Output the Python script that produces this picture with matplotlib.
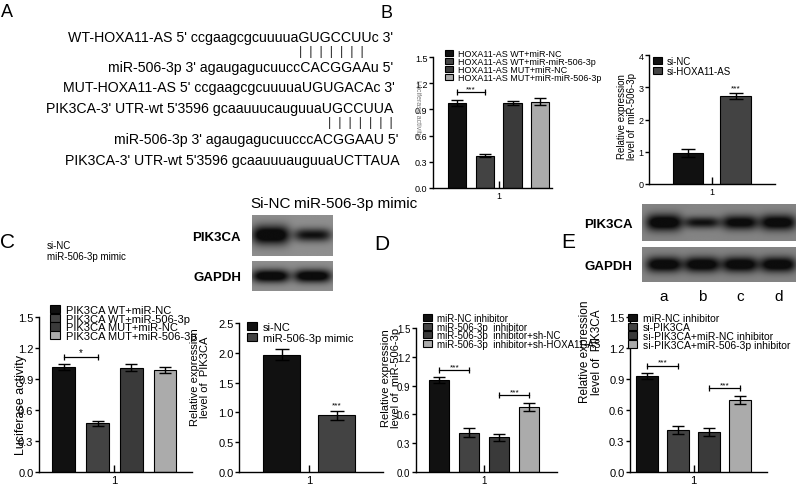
import matplotlib
matplotlib.use('Agg')
import matplotlib.pyplot as plt
import numpy as np

plt.rcParams['font.family'] = ['Liberation Sans', 'DejaVu Sans']

W, H = 796, 485

# ---------------- data ----------------
seq_lines = ["WT-HOXA11-AS 5' ccgaagcgcuuuuaGUGCCUUc 3'",
             "miR-506-3p 3' agaugagucuuccCACGGAAu 5'",
             "MUT-HOXA11-AS 5' ccgaagcgcuuuuaUGUGACAc 3'",
             "PIK3CA-3' UTR-wt 5'3596 gcaauuucauguuaUGCCUUA",
             "miR-506-3p 3' agaugagucuucccACGGAAU 5'",
             "PIK3CA-3' UTR-wt 5'3596 gcaauuuauguuaUCTTAUA"]
pairing = "|  |  |  |  |  |  |"

b1_labels = ['HOXA11-AS WT+miR-NC', 'HOXA11-AS WT+miR-miR-506-3p',
             'HOXA11-AS MUT+miR-NC', 'HOXA11-AS MUT+miR-miR-506-3p']
b1_vals = [0.97, 0.37, 0.97, 0.99]
b1_errs = [0.035, 0.02, 0.025, 0.035]

b2_labels = ['si-NC', 'si-HOXA11-AS']
b2_vals = [0.96, 2.74]
b2_errs = [0.12, 0.09]

c1_labels = ['PIK3CA WT+miR-NC', 'PIK3CA WT+miR-506-3p',
             'PIK3CA MUT+miR-NC', 'PIK3CA MUT+miR-506-3p']
c1_vals = [1.02, 0.47, 1.01, 0.985]
c1_errs = [0.03, 0.02, 0.035, 0.03]

c2_labels = ['si-NC', 'miR-506-3p mimic']
c2_vals = [1.97, 0.95]
c2_errs = [0.09, 0.08]

d_labels = ['miR-NC inhibitor', 'miR-506-3p  inhibitor',
            'miR-506-3p  inhibitor+sh-NC', 'miR-506-3p  inhibitor+sh-HOXA11-AS']
d_vals = [0.96, 0.41, 0.36, 0.68]
d_errs = [0.03, 0.045, 0.035, 0.04]

e_labels = ['miR-NC inhibitor', 'si-PIK3CA',
            'si-PIK3CA+miR-NC inhibitor', 'si-PIK3CA+miR-506-3p inhibitor']
e_vals = [0.93, 0.41, 0.39, 0.70]
e_errs = [0.03, 0.04, 0.04, 0.04]

# western blots: relative band strength per lane
blot_c_lanes = ['Si-NC', 'miR-506-3p mimic']
blot_c_pik3ca = [1.0, 0.55]
blot_c_gapdh = [0.95, 0.95]
blot_e_lanes = ['a', 'b', 'c', 'd']
blot_e_pik3ca = [1.0, 0.55, 0.8, 0.9]
blot_e_gapdh = [0.95, 0.95, 0.95, 0.95]

bar_colors = ['#111111', '#434343', '#3a3a3a', '#ababab']

fig = plt.figure(figsize=(W / 100, H / 100), dpi=100)


def px_axes(x0, y0, x1, y1):
    return fig.add_axes([x0 / W, 1 - y1 / H, (x1 - x0) / W, (y1 - y0) / H])


def fig_xy(x, y):
    return x / W, 1 - y / H


def bar_panel(rect, vals, errs, labels, ylim, yticks, fmt, xlim, width, fs, cap,
              mid, leg_xy, leg_fs, leg_sp):
    ax = px_axes(*rect)
    ax.patch.set_alpha(0)
    for i in range(len(vals)):
        ax.bar(i, vals[i], width, yerr=errs[i], color=bar_colors[i], edgecolor='black',
               linewidth=0.8, capsize=cap, label=labels[i],
               error_kw=dict(elinewidth=1.0, capthick=1.0, ecolor='black'))
    ax.set_xlim(*xlim)
    ax.set_ylim(*ylim)
    ax.set_yticks(yticks)
    ax.set_yticklabels([fmt.format(t) for t in yticks], fontsize=fs)
    ax.set_xticks([mid])
    ax.set_xticklabels(['1'], fontsize=fs)
    for s in ['top', 'right']:
        ax.spines[s].set_visible(False)
    for s in ['left', 'bottom']:
        ax.spines[s].set_linewidth(1.0)
    ax.tick_params(axis='y', direction='out', length=3, width=1.0, pad=1)
    ax.tick_params(axis='x', direction='in', length=5, width=1.0, pad=2)
    ax.legend(loc='upper left', bbox_to_anchor=fig_xy(*leg_xy), bbox_transform=fig.transFigure,
              frameon=False, fontsize=leg_fs, handlelength=0.9, handleheight=0.75,
              handletextpad=0.5, labelspacing=leg_sp, borderpad=0, borderaxespad=0)
    return ax


def bracket(ax, i, j, y, txt, fs=6, ms=5):
    ax.plot([i, j], [y, y], color='black', lw=0.9, marker='|', markersize=ms, mew=0.9)
    ax.text((i + j) / 2, y, txt, ha='center', va='bottom', fontsize=fs)


def blot(ax, levels, xlim, bg, lane_w):
    xs = np.linspace(xlim[0], xlim[1], 400)
    ys = np.linspace(0, 1, 120)
    X, Y = np.meshgrid(xs, ys)
    dark = np.zeros_like(X)
    for i, a in enumerate(levels):
        t = 0.14 + 0.32 * a
        dark += np.exp(-np.abs((X - i) / (lane_w / 2)) ** 4 - ((Y - 0.5) / (t / 2)) ** 2) * (0.6 + 0.7 * a)
    img = bg - (bg - 0.05) * np.clip(dark, 0, 1)
    ax.imshow(img, extent=(xlim[0], xlim[1], 0, 1), cmap='gray', vmin=0, vmax=1,
              aspect='auto', origin='lower', interpolation='bilinear')
    ax.set_xlim(*xlim)
    ax.set_ylim(0, 1)
    for s in ax.spines.values():
        s.set_visible(False)


# ---------------- panel A ----------------
seq_pos = [(393, 42), (393, 72), (395, 92), (393, 113), (398, 144), (400, 165)]
for line, (x, y) in zip(seq_lines, seq_pos):
    fig.text(*fig_xy(x, y), line, ha='right', va='baseline', fontsize=10.2)
fig.text(*fig_xy(331, 52), pairing, ha='center', va='center', fontsize=9, color='#222222')
fig.text(*fig_xy(360, 123), pairing, ha='center', va='center', fontsize=9, color='#222222')

# ---------------- panel B ----------------
axb1 = bar_panel((433, 58, 552, 189), b1_vals, b1_errs, b1_labels, (0, 1.5),
                 [0, 0.3, 0.6, 0.9, 1.2, 1.5], '{:.1f}', (-0.86, 3.42), 0.65, 6.5, 4,
                 1.5, (445, 50), 6.5, -0.1)
bracket(axb1, 0, 1, 1.10, '***')
fig.text(*fig_xy(418, 108), 'Luciferase activity', rotation=270, ha='center', va='center',
         fontsize=5, color='#777777')

axb2 = bar_panel((649, 56, 775, 185), b2_vals, b2_errs, b2_labels, (0, 4),
                 [0, 1, 2, 3, 4], '{:d}', (-0.82, 1.83), 0.64, 6.5, 5,
                 0.5, (653, 57), 7, -0.04)
axb2.text(1, b2_vals[1] + b2_errs[1] + 0.05, '***', ha='center', va='bottom', fontsize=6)
fig.text(*fig_xy(627, 117), 'Relative expression\nlevel of  miR-506-3p', rotation=90,
         ha='center', va='center', fontsize=7, linespacing=0.95)

# ---------------- panel C ----------------
axc1 = bar_panel((39, 318, 192, 473), c1_vals, c1_errs, c1_labels, (0, 1.5),
                 [0, 0.3, 0.6, 0.9, 1.2, 1.5], '{:.1f}', (-0.74, 3.8), 0.68, 8, 4.5,
                 1.5, (50, 306), 8, -0.12)
bracket(axc1, 0, 1, 1.11, '*', fs=7)
fig.text(*fig_xy(21, 405), 'Luciferase activity', rotation=90, ha='center', va='center', fontsize=9)

axc2 = bar_panel((239, 324, 383, 473), c2_vals, c2_errs, c2_labels, (0, 2.5),
                 [0, 0.5, 1.0, 1.5, 2.0, 2.5], '{:.1f}', (-0.78, 1.84), 0.67, 8, 5,
                 0.5, (247, 323), 8, 0.1)
axc2.text(1, c2_vals[1] + c2_errs[1] + 0.03, '***', ha='center', va='bottom', fontsize=6)
fig.text(*fig_xy(200, 377), 'Relative expression\nlevel of  PIK3CA', rotation=90,
         ha='center', va='center', fontsize=8, linespacing=0.95)

fig.text(*fig_xy(47, 249), 'si-NC', fontsize=7, va='baseline')
fig.text(*fig_xy(47, 260), 'miR-506-3p mimic', fontsize=7, va='baseline')

ax_cp = px_axes(252, 216, 333, 257)
blot(ax_cp, blot_c_pik3ca, (-0.45, 1.48), 0.56, 0.9)
ax_cp.set_xticks([])
ax_cp.set_yticks([0.5])
ax_cp.set_yticklabels(['PIK3CA'], fontsize=9.5, fontweight='bold')
ax_cp.tick_params(axis='y', length=0, pad=8)
ax_cp.text(0, 1.12, blot_c_lanes[0], transform=ax_cp.get_xaxis_transform(),
           ha='center', va='bottom', fontsize=11)
ax_cp.text(0.55, 1.12, blot_c_lanes[1], transform=ax_cp.get_xaxis_transform(),
           ha='left', va='bottom', fontsize=11)

ax_cg = px_axes(252, 262, 333, 292)
blot(ax_cg, blot_c_gapdh, (-0.45, 1.48), 0.56, 0.9)
ax_cg.set_xticks([])
ax_cg.set_yticks([0.5])
ax_cg.set_yticklabels(['GAPDH'], fontsize=9.5, fontweight='bold')
ax_cg.tick_params(axis='y', length=0, pad=8)

# ---------------- panel D ----------------
axd = bar_panel((416, 329, 557, 473), d_vals, d_errs, d_labels, (0, 1.5),
                [0, 0.3, 0.6, 0.9, 1.2, 1.5], '{:.1f}', (-0.78, 3.92), 0.67, 7, 4,
                1.5, (423, 314), 7, -0.14)
bracket(axd, 0, 1, 1.06, '***')
bracket(axd, 2, 3, 0.80, '***')
fig.text(*fig_xy(391, 378), 'Relative expression\nlevel of  miR-506-3p', rotation=90,
         ha='center', va='center', fontsize=8, linespacing=0.95)

# ---------------- panel E ----------------
axe = bar_panel((630, 318, 767, 473), e_vals, e_errs, e_labels, (0, 1.5),
                [0, 0.3, 0.6, 0.9, 1.2, 1.5], '{:.1f}', (-0.55, 3.87), 0.72, 8, 4.5,
                1.5, (628, 314), 7.5, -0.1)
bracket(axe, 0, 1, 1.03, '***')
bracket(axe, 2, 3, 0.81, '***')
fig.text(*fig_xy(591, 352), 'Relative expression\nlevel of  PIK3CA', rotation=90,
         ha='center', va='center', fontsize=8.5, linespacing=0.95)

ax_ep = px_axes(642, 205, 796, 242)
blot(ax_ep, blot_e_pik3ca, (-0.58, 3.47), 0.52, 0.95)
ax_ep.set_xticks([])
ax_ep.set_yticks([0.5])
ax_ep.set_yticklabels(['PIK3CA'], fontsize=9.5, fontweight='bold')
ax_ep.tick_params(axis='y', length=0, pad=7)

ax_eg = px_axes(642, 248, 796, 283)
blot(ax_eg, blot_e_gapdh, (-0.58, 3.47), 0.52, 0.95)
ax_eg.set_xticks(range(len(blot_e_lanes)))
ax_eg.set_xticklabels(blot_e_lanes, fontsize=11)
ax_eg.tick_params(axis='x', length=0, pad=5)
ax_eg.set_yticks([0.5])
ax_eg.set_yticklabels(['GAPDH'], fontsize=9.5, fontweight='bold')
ax_eg.tick_params(axis='y', length=0, pad=7)

# ---------------- panel letters ----------------
for letter, x, y, fs in [('A', 1, 17, 13), ('B', 381, 18, 13), ('C', 0, 248, 15),
                         ('D', 374, 250, 15), ('E', 561, 248, 15)]:
    fig.text(*fig_xy(x, y), letter, fontsize=fs, va='baseline')

fig.savefig('out.png', dpi=100)
